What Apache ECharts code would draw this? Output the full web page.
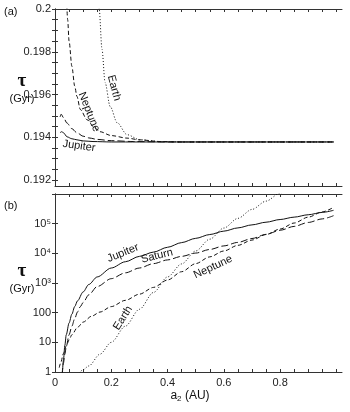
<!DOCTYPE html>
<html><head><meta charset="utf-8">
<script src="https://cdn.jsdelivr.net/npm/echarts@6/dist/echarts.min.js"></script>
<style>html,body{margin:0;padding:0;background:#fff}#c{width:350px;height:412px}</style>
</head><body><div id="c"></div>
<script>
// ---------- DATA ----------
// Panel (a): tau (Gyr) vs a2 (AU)
const jupiterA_x = [0.018, 0.024, 0.030, 0.043, 0.060, 0.078, 0.100, 0.135, 0.200, 0.300, 0.500, 0.990];
const jupiterA_y = [0.19421, 0.19426, 0.19421, 0.19402, 0.19393, 0.19388, 0.19383, 0.19380, 0.19378, 0.19378, 0.19378, 0.19378];
const saturnA_x = [0.018, 0.022, 0.030, 0.043, 0.060, 0.078, 0.100, 0.120, 0.150, 0.200, 0.280, 0.400, 0.990];
const saturnA_y = [0.19495, 0.19508, 0.19492, 0.19466, 0.19440, 0.19421, 0.19405, 0.19397, 0.19390, 0.19384, 0.19380, 0.19378, 0.19378];
const neptuneA_x = [0.041, 0.045, 0.050, 0.060, 0.070, 0.078, 0.090, 0.114, 0.140, 0.160, 0.200, 0.256, 0.300, 0.374, 0.450, 0.990];
const neptuneA_y = [0.2005, 0.1995, 0.1985, 0.19732, 0.19640, 0.19591, 0.19530, 0.19482, 0.19445, 0.19426, 0.19408, 0.19396, 0.19388, 0.19380, 0.19378, 0.19378];
const earthA_x = [0.155, 0.157, 0.167, 0.178, 0.196, 0.221, 0.256, 0.302, 0.374, 0.450, 0.600, 0.990];
const earthA_y = [0.2005, 0.2000, 0.19812, 0.19656, 0.19544, 0.19468, 0.19412, 0.19388, 0.19380, 0.19378, 0.19378, 0.19378];

// Panel (b): tau (Gyr, log axis) vs a2 (AU)
const jupiterB_x = [0.026, 0.03, 0.035, 0.04, 0.05, 0.06, 0.07, 0.08, 0.1, 0.12, 0.15, 0.2, 0.25, 0.3, 0.35, 0.4, 0.45, 0.5, 0.55, 0.6, 0.65, 0.7, 0.75, 0.8, 0.85, 0.9, 0.95, 0.99];
const jupiterB_y = [0.79, 2.5, 7.9, 18, 45, 89, 160, 250, 500, 890, 1600, 3200, 5200, 7900, 11000, 16000, 23000, 32000, 43000, 56000, 72000, 91000, 112000, 138000, 166000, 200000, 240000, 282000];
const saturnB_x = [0.025, 0.03, 0.035, 0.04, 0.05, 0.06, 0.07, 0.08, 0.09, 0.1, 0.12, 0.15, 0.2, 0.25, 0.3, 0.35, 0.4, 0.45, 0.5, 0.55, 0.6, 0.65, 0.7, 0.75, 0.8, 0.85, 0.9, 0.95, 0.99];
const saturnB_y = [0.79, 2, 4, 7.1, 18, 35, 63, 105, 160, 220, 400, 760, 1400, 2200, 3200, 4500, 6000, 7900, 10200, 13500, 17800, 23400, 31600, 43600, 60000, 81000, 110000, 145000, 186000];
const neptuneB_x = [0.015, 0.02, 0.03, 0.04, 0.05, 0.06, 0.08, 0.1, 0.13, 0.16, 0.2, 0.25, 0.3, 0.35, 0.4, 0.45, 0.5, 0.55, 0.6, 0.65, 0.7, 0.75, 0.8, 0.85, 0.9, 0.95, 0.99];
const neptuneB_y = [1.4, 2, 4.2, 7.6, 12, 18, 32, 48, 76, 105, 160, 260, 420, 710, 1260, 2400, 4500, 7600, 12000, 18600, 28000, 43000, 66000, 105000, 166000, 250000, 355000];
const earthB_x = [0.085, 0.1, 0.12, 0.16, 0.2, 0.25, 0.3, 0.35, 0.4, 0.45, 0.5, 0.55, 0.6, 0.65, 0.7, 0.75, 0.8, 0.82];
const earthB_y = [0.89, 1.2, 1.6, 4, 10, 35, 130, 480, 1600, 4400, 12000, 30000, 71000, 151000, 302000, 575000, 1070000, 1320000];

// Tick labels
const xTickLabels = [0, 0.2, 0.4, 0.6, 0.8];
const yTickLabelsA = [0.192, 0.194, 0.196, 0.198, 0.2];
const yTickTextA = ['0.192', '0.194', '0.196', '0.198', '0.2'];
const yTickTextB = ['1', '10', '100', '10³', '10⁴', '10⁵', ''];

// ---------- CHART ----------
const FONT = 'Liberation Sans, Arial, sans-serif';
const xTicks = []; for (let i = 0; i <= 20; i++) xTicks.push(Math.round(i * 5) / 100);
const yTicksA = []; for (let i = 0; i <= 16; i++) yTicksA.push(Math.round((0.192 + i * 0.0005) * 1e5) / 1e5);
const zip = (xs, ys) => xs.map((x, i) => [x, ys[i]]);

const lineCol = '#333';
const tickStyle = { inside: true, length: 3, lineStyle: { color: lineCol, width: 1 } };
const axLine = { show: true, lineStyle: { color: lineCol, width: 1 } };
const XMAX = 1.02;

function xAx(grid, pos, labels) {
  return {
    type: 'value', gridIndex: grid, position: pos, min: 0, max: XMAX,
    axisLine: axLine, splitLine: { show: false },
    axisTick: Object.assign({ customValues: xTicks }, tickStyle),
    axisLabel: labels ? { customValues: xTickLabels, color: '#222', fontFamily: FONT, fontSize: 11, margin: 5,
      formatter: v => String(v) } : { show: false }
  };
}
const yA = (pos, labels) => ({
  type: 'value', gridIndex: 0, position: pos, min: 0.19172, max: 0.2,
  axisLine: axLine, splitLine: { show: false },
  axisTick: Object.assign({ customValues: yTicksA }, tickStyle),
  axisLabel: labels ? { customValues: yTickLabelsA, color: '#222', fontFamily: FONT, fontSize: 11, margin: 4,
    formatter: v => { const i = yTickLabelsA.findIndex(t => Math.abs(t - v) < 1e-7); return i >= 0 ? yTickTextA[i] : ''; } } : { show: false }
});
const yB = (pos, labels) => ({
  type: 'log', logBase: 10, gridIndex: 1, position: pos, min: 1, max: 1e6,
  axisLine: axLine, splitLine: { show: false }, minorTick: { show: false },
  axisTick: tickStyle,
  axisLabel: labels ? { color: '#222', fontFamily: FONT, fontSize: 11, margin: 4, showMaxLabel: false,
    formatter: v => { const e = Math.round(Math.log10(v)); return yTickTextB[e] || ''; } } : { show: false }
});

function ser(xi, yi, xs, ys, dash) {
  return {
    type: 'line', xAxisIndex: xi, yAxisIndex: yi, data: zip(xs, ys),
    showSymbol: false, smooth: 0.3, smoothMonotone: 'x', clip: true, silent: true,
    lineStyle: { color: '#111', width: 1, type: dash }
  };
}
const SOLID = 'solid', LONG = [7, 3], SHORT = [4, 2.5], DOT = [1, 2];

const chart = echarts.init(document.getElementById('c'), null, { renderer: 'canvas' });
const txt = (x, y, text, rot, extra) => ({
  type: 'text', x: x, y: y, rotation: (rot || 0) * Math.PI / 180, silent: true,
  style: Object.assign({ text: text, fill: '#111', font: '11px ' + FONT, textAlign: 'center', textVerticalAlign: 'middle' }, extra || {})
});

chart.setOption({
  animation: false,
  backgroundColor: '#fff',
  grid: [
    { left: 55, top: 9, width: 287, height: 177 },
    { left: 55, top: 194, width: 287, height: 178 }
  ],
  xAxis: [xAx(0, 'bottom', false), xAx(0, 'top', false), xAx(1, 'bottom', true), xAx(1, 'top', false)],
  yAxis: [yA('left', true), yA('right', false), yB('left', true), yB('right', false)],
  series: [
    ser(0, 0, jupiterA_x, jupiterA_y, SOLID),
    ser(0, 0, saturnA_x, saturnA_y, LONG),
    ser(0, 0, neptuneA_x, neptuneA_y, SHORT),
    ser(0, 0, earthA_x, earthA_y, DOT),
    ser(2, 2, jupiterB_x, jupiterB_y, SOLID),
    ser(2, 2, saturnB_x, saturnB_y, LONG),
    ser(2, 2, neptuneB_x, neptuneB_y, SHORT),
    ser(2, 2, earthB_x, earthB_y, DOT)
  ],
  graphic: [
    txt(4, 12, '(a)', 0, { textAlign: 'left' }),
    txt(4, 206, '(b)', 0, { textAlign: 'left' }),
    txt(22, 81, 'τ', 0, { font: 'bold 19px Liberation Serif, serif' }),
    txt(22, 99, '(Gyr)', 0),
    txt(22, 271, 'τ', 0, { font: 'bold 19px Liberation Serif, serif' }),
    txt(22, 289, '(Gyr)', 0),
    { type: 'text', x: 190, y: 396, silent: true,
      style: { text: '{a|a}{s|2}{a| (AU)}', textAlign: 'center', textVerticalAlign: 'middle',
        rich: { a: { fontSize: 12, fontFamily: FONT, fill: '#111' }, s: { fontSize: 8, fontFamily: FONT, fill: '#111', padding: [6, 0, 0, 0] } } } },
    // panel (a) curve labels
    txt(89, 112, 'Neptune', -68),
    txt(114, 88, 'Earth', -75),
    txt(79, 146, 'Jupiter', -8),
    // panel (b) curve labels
    txt(123, 253, 'Jupiter', 22),
    txt(157, 256, 'Saturn', 14),
    txt(213, 267, 'Neptune', 25),
    txt(123, 318, 'Earth', 58)
  ]
});
</script></body></html>
